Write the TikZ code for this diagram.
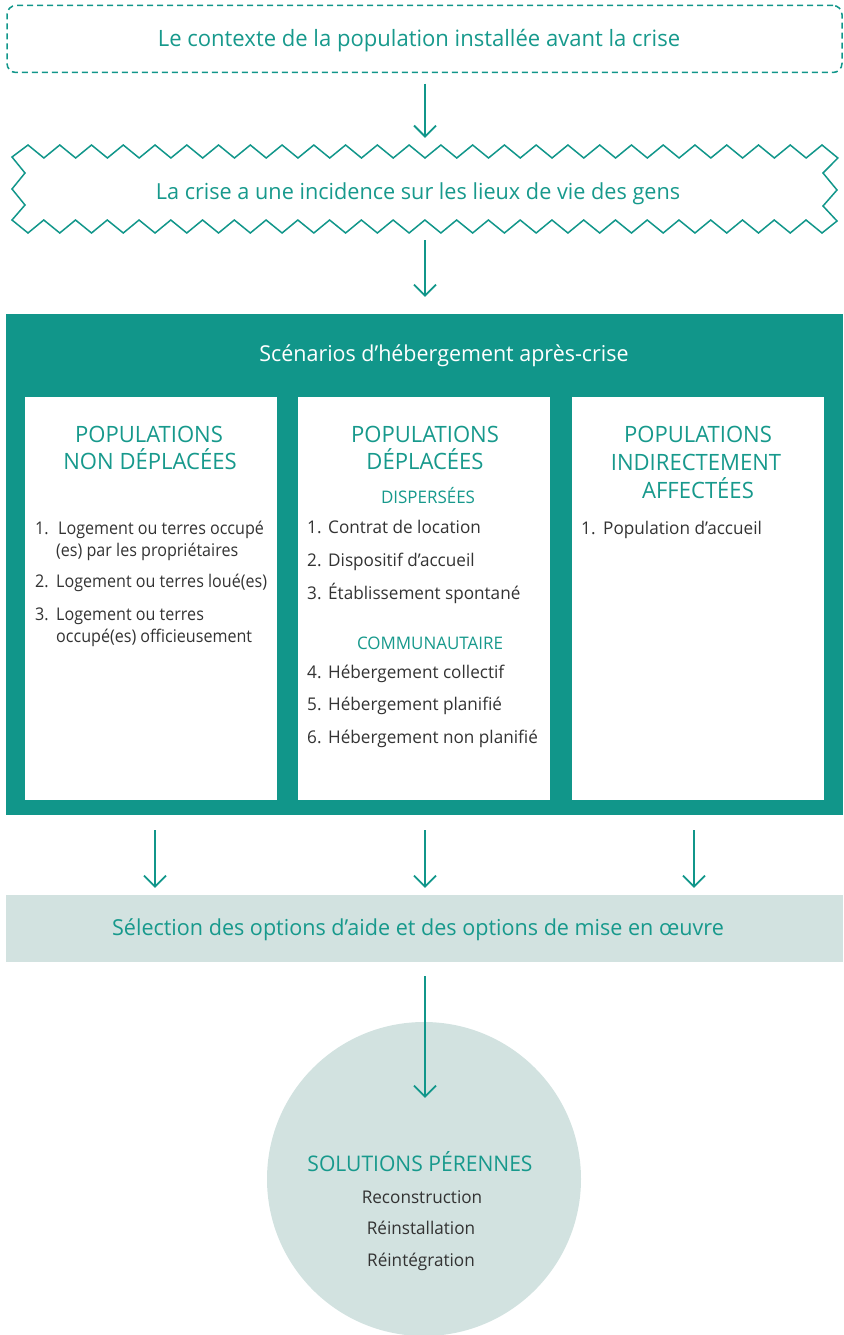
\documentclass[tikz,border=0pt]{standalone}
\usepackage{fontspec}
\setmainfont{Open Sans}[FakeStretch=0.98]
\newfontfamily\condfont{Open Sans}[FakeStretch=0.92]
\usetikzlibrary{arrows.meta,calc}
\definecolor{mteal}{HTML}{11968A}
\definecolor{mtealtxt}{HTML}{17998C}
\definecolor{mlight}{HTML}{D2E2E0}
\definecolor{mdark}{HTML}{333333}
\begin{document}
\begin{tikzpicture}[x=1pt,y=-1pt,
  bigtxt/.style={text=mtealtxt, font=\fontsize{22.5}{27}\selectfont, inner sep=0, anchor=base},
  headtxt/.style={text=mtealtxt, font=\fontsize{22.5}{27}\selectfont, inner sep=0, anchor=base},
  subtxt/.style={text=mtealtxt, font=\fontsize{17.3}{20}\selectfont, inner sep=0, anchor=base},
  body/.style={text=mdark, font=\fontsize{17.5}{21}\selectfont, inner sep=0, anchor=base west},
  bodyl/.style={text=mdark, font=\condfont\fontsize{17.5}{21}\selectfont, inner sep=0, anchor=base west},
  bodyc/.style={text=mdark, font=\fontsize{17.5}{21}\selectfont, inner sep=0, anchor=base},
  colbox/.style={fill=white, minimum width=252pt, minimum height=403pt, inner sep=0},
  arr/.style={draw=mteal, line width=1.8pt, -{Straight Barb[length=11pt,width=22pt]}}
]
\useasboundingbox (0,0) rectangle (843,1335);

% top dashed box
\node[draw=mteal, dash pattern=on 6pt off 4pt, line width=1.5pt, rounded corners=9pt,
      minimum width=835pt, minimum height=67pt, inner sep=0] (ctx) at (424.5,39) {};
\node[bigtxt] (ctxt) at (419,47) {Le contexte de la population installée avant la crise};

% zigzag box
\node[minimum width=825pt, minimum height=88pt, inner sep=0] (crise) at (424.5,189) {};
\draw[mteal, line width=1.5pt, line join=miter]
  (12,157) \foreach \i in {0,...,25} { -- ({28+31.76*\i},145) -- ({43.88+31.76*\i},158) }
  -- (823,173) -- (837,190) -- (823,206) -- (837,221)
  \foreach \i in {25,...,0} { -- ({28+31.76*\i},233) -- ({12+31.76*\i},220) }
  -- (25,205) -- (12,189) -- (25,173) -- cycle;
\node[bigtxt, font=\fontsize{22.1}{27}\selectfont] (crisetxt) at (418,199) {La crise a une incidence sur les lieux de vie des gens};

% main box
\node[fill=mteal, minimum width=837pt, minimum height=501pt, inner sep=0] (main) at (424.5,564.5) {};
\node[bigtxt, text=white, font=\fontsize{21.9}{27}\selectfont] (title) at (444,361) {Scénarios d’hébergement après-crise};
\node[colbox] (colL) at (151,598.5) {};
\node[colbox] (colM) at (424,598.5) {};
\node[colbox] (colR) at (698,598.5) {};

% left column
\node[headtxt] (hL1) at (149,442) {POPULATIONS};
\node[headtxt] (hL2) at (150,469) {NON DÉPLACÉES};
\node[bodyl] (nL1) at (35,534) {1.};
\node[bodyl] (tL1a) at (58,534) {Logement ou terres occupé};
\node[bodyl] (tL1b) at (56,556) {(es) par les propriétaires};
\node[bodyl] (nL2) at (35,587) {2.};
\node[bodyl] (tL2) at (56,587) {Logement ou terres loué(es)};
\node[bodyl] (nL3) at (35,620) {3.};
\node[bodyl] (tL3a) at (56,620) {Logement ou terres};
\node[bodyl] (tL3b) at (56,642) {occupé(es) officieusement};

% middle column
\node[headtxt] (hM1) at (425,442) {POPULATIONS};
\node[headtxt] (hM2) at (425,469) {DÉPLACÉES};
\node[subtxt] (sM1) at (428,503) {DISPERSÉES};
\node[body] (nM1) at (307,533) {1.};
\node[body] (tM1) at (328,533) {Contrat de location};
\node[body] (nM2) at (307,566) {2.};
\node[body] (tM2) at (328,566) {Dispositif d’accueil};
\node[body] (nM3) at (307,599) {3.};
\node[body] (tM3) at (328,599) {Établissement spontané};
\node[subtxt] (sM2) at (430,649) {COMMUNAUTAIRE};
\node[body] (nM4) at (307,678) {4.};
\node[body] (tM4) at (328,678) {Hébergement collectif};
\node[body] (nM5) at (307,710) {5.};
\node[body] (tM5) at (328,710) {Hébergement planifié};
\node[body] (nM6) at (307,743) {6.};
\node[body] (tM6) at (328,743) {Hébergement non planifié};

% right column
\node[headtxt] (hR1) at (698,442) {POPULATIONS};
\node[headtxt] (hR2) at (696,470) {INDIRECTEMENT};
\node[headtxt] (hR3) at (698,498) {AFFECTÉES};
\node[body] (nR1) at (581,534) {1.};
\node[body] (tR1) at (603,534) {Population d’accueil};

% selection box
\node[fill=mlight, minimum width=837pt, minimum height=67pt, inner sep=0] (sel) at (424.5,928.5) {};
\node[bigtxt, font=\fontsize{22}{27}\selectfont] (seltxt) at (418,935) {Sélection des options d’aide et des options de mise en œuvre};

% circle
\node[circle, fill=mlight, minimum size=314pt, inner sep=0] (sol) at (424,1179) {};
\node[headtxt, font=\fontsize{21.5}{27}\selectfont] (soltxt) at (420,1171) {SOLUTIONS PÉRENNES};
\node[bodyc] (s1) at (422,1203) {Reconstruction};
\node[bodyc] (s2) at (421,1234) {Réinstallation};
\node[bodyc] (s3) at (421,1266) {Réintégration};

% arrows
\draw[arr] ($(ctx.south)+(0.5,10.5)$) -- ($(crise.north)+(0.5,-7)$);
\draw[arr] ($(crise.south)+(0.5,7)$) -- ($(main.north)+(0.5,-17)$);
\draw[arr] ($(main.south -| colL.south)+(4,15)$) -- ($(sel.north -| colL.south)+(4,-7)$);
\draw[arr] ($(main.south -| colM.south)+(1,15)$) -- ($(sel.north -| colM.south)+(1,-7)$);
\draw[arr] ($(main.south -| colR.south)+(-4,15)$) -- ($(sel.north -| colR.south)+(-4,-7)$);
\draw[arr] ($(sel.south)+(0.5,14)$) -- ($(sol.north)+(1,76)$);
\end{tikzpicture}
\end{document}
